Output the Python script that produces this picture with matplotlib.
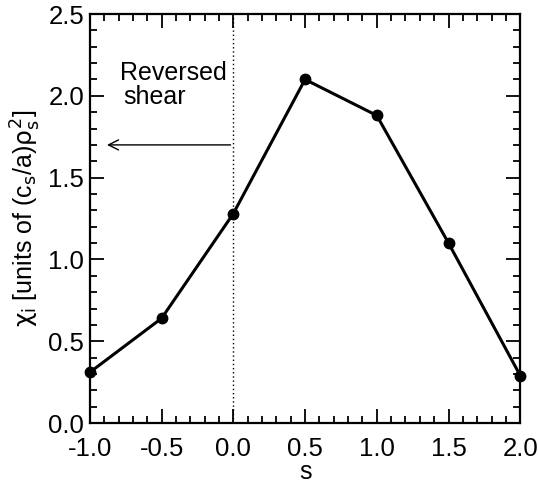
import matplotlib
matplotlib.use("Agg")
import matplotlib.pyplot as plt
from matplotlib.ticker import MultipleLocator, FormatStrFormatter

plt.rcParams['font.family'] = ['Liberation Sans', 'DejaVu Sans']
plt.rcParams['mathtext.fontset'] = 'custom'
plt.rcParams['mathtext.rm'] = 'Liberation Sans Narrow'
plt.rcParams['mathtext.it'] = 'Liberation Sans Narrow'
plt.rcParams['mathtext.sf'] = 'Liberation Sans Narrow'

s = [-1.0, -0.5, 0.0, 0.5, 1.0, 1.5, 2.0]
chi = [0.31, 0.64, 1.28, 2.10, 1.88, 1.10, 0.29]

fig = plt.figure(figsize=(5.38, 4.84), dpi=100)
ax = fig.add_axes([0.167, 0.126, 0.8, 0.845])

ax.axvline(0.0, color="black", linestyle=(0, (1, 2)), linewidth=1)
ax.plot(s, chi, color="black", linewidth=2.2, marker="o", markersize=7.5, clip_on=False, zorder=3)
ax.annotate("", xy=(-0.9, 1.7), xytext=(0.0, 1.7),
            arrowprops=dict(arrowstyle="->", color="black", lw=1, mutation_scale=18))
ax.text(-0.79, 2.14, "Reversed", fontsize=18, va="center", ha="left")
ax.text(-0.77, 1.99, "shear", fontsize=18, va="center", ha="left")

ax.set_xlim(-1.0, 2.0)
ax.set_ylim(0.0, 2.5)
ax.xaxis.set_major_locator(MultipleLocator(0.5))
ax.xaxis.set_minor_locator(MultipleLocator(0.1))
ax.yaxis.set_major_locator(MultipleLocator(0.5))
ax.yaxis.set_minor_locator(MultipleLocator(0.1))
ax.xaxis.set_major_formatter(FormatStrFormatter("%.1f"))
ax.yaxis.set_major_formatter(FormatStrFormatter("%.1f"))
ax.tick_params(which="both", direction="in", top=True, right=True, width=1.3, labelsize=18.5)
ax.tick_params(axis="x", which="major", pad=10)
ax.tick_params(axis="y", which="major", pad=4)
ax.tick_params(which="major", length=10)
ax.tick_params(which="minor", length=5)
for sp in ax.spines.values():
    sp.set_linewidth(1.6)

ax.set_xlabel("s", fontsize=18, labelpad=-1)
ax.set_ylabel(r"$\chi_i$ [units of (c$_s$/a)$\rho_s^2$]", fontsize=18, labelpad=4,
              family=['Liberation Sans Narrow', 'Liberation Sans'])

fig.savefig("out.png", dpi=100)
